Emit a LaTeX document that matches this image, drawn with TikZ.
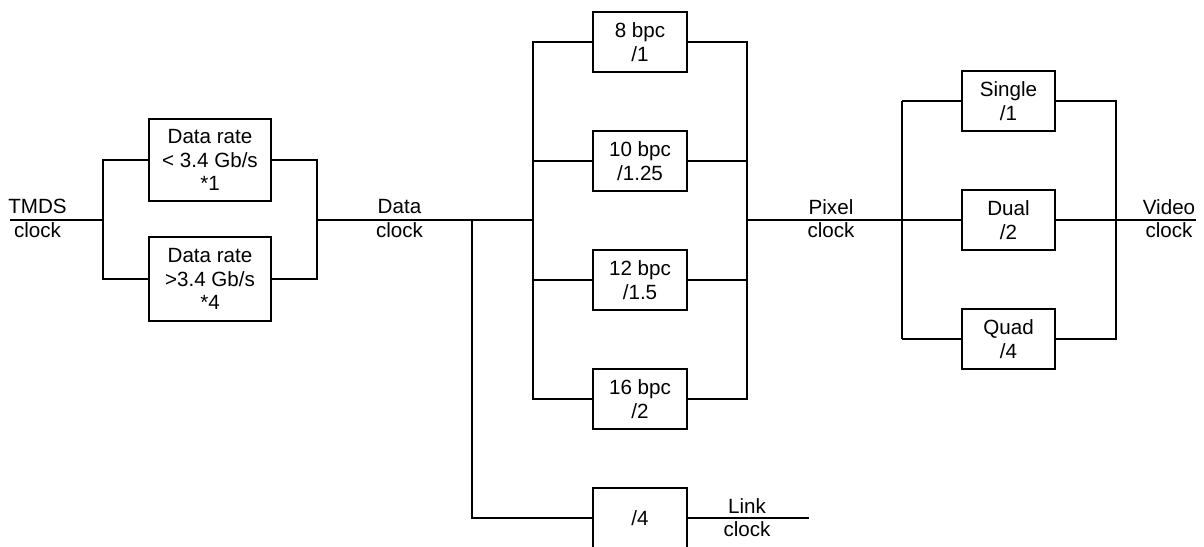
\documentclass[tikz,border=0pt]{standalone}
\usepackage{fontspec}
\setmainfont{Liberation Sans}
\usetikzlibrary{positioning}
\newcommand{\ckfont}{\fontsize{10.3pt}{11.75pt}\selectfont}
\tikzset{
  ckbox/.style  ={rectangle, draw=black, line width=1pt, fill=white,
                  inner sep=0pt, align=center, font=\ckfont, text=black},
  ckrate/.style ={ckbox, minimum width=61pt, minimum height=41pt},
  ckdiv/.style  ={ckbox, minimum width=47pt, minimum height=30pt},
  ckwire/.style ={draw=black, line width=0.55pt},
  ckbus/.style  ={draw=black, line width=1pt},
  cklbl/.style  ={font=\ckfont, text=black, align=center, inner sep=0pt},
}

\begin{document}
\begin{tikzpicture}[x=0.5pt, y=-0.5pt]
  \useasboundingbox (0,0) rectangle (1204,546);
  \clip (0,0) rectangle (1204,546);
  % points on the clock line
  \coordinate (tmds)  at (10,220);
  \coordinate (ja)    at (103,220);
  \coordinate (jb)    at (317,220);
  \coordinate (jc)    at (472,220);
  \coordinate (jd)    at (533,220);
  \coordinate (je)    at (747,220);
  \coordinate (jf)    at (902,220);
  \coordinate (jg)    at (1116,220);
  \coordinate (video) at (1196,220);
  \coordinate (link)  at (809,518);

  % rate stage
  \node[ckrate] (rlo) at (210,160) {Data rate\\< 3.4 Gb/s\\*1};
  \node[ckrate, minimum height=42pt] (rhi) at (210,279) {Data rate\\>3.4 Gb/s\\*4};
  \draw[ckwire] (tmds) -- (ja);
  \draw[ckwire] (rlo.west) -| (ja) |- (rhi.west);
  \draw[ckwire] (rlo.east) -| (jb) |- (rhi.east);
  \draw[ckwire] (jb) -- (jd);

  % colour depth stage
  \foreach \n/\t/\y in {8/1/42, 10/1.25/161, 12/1.5/280, 16/2/399}{
    \node[ckdiv] (b\n) at (640,\y) {\n{} bpc\\/\t};
  }
  \draw[ckwire] (b8.west) -| (jd) |- (b16.west);
  \draw[ckwire] (b8.east) -| (je) |- (b16.east);
  \foreach \n in {10,12}{
    \draw[ckwire] (b\n.west) -- (b\n.west -| jd);
    \draw[ckwire] (b\n.east) -- (b\n.east -| je);
  }
  \node[ckdiv] (div) at (640,518) {/4};
  \draw[ckwire] (jc) |- (div.west);
  \draw[ckwire] (div.east) -- (link);

  % pixel stage
  \foreach \m/\t/\d/\y in {single/Single/1/101, dual/Dual/2/220, quad/Quad/4/339}{
    \node[ckbox, minimum width=46.5pt, minimum height=30pt] (\m) at (1008.5,\y) {\t\\/\d};
  }
  \draw[ckwire] (je) -- (dual.west);
  \draw[ckwire] (single.west) -- (single.west -| jf);
  \draw[ckwire] (quad.west) -- (quad.west -| jf);
  \draw[ckbus] (single.west -| jf) -- (quad.west -| jf);
  \draw[ckwire] (single.east) -| (jg) |- (quad.east);
  \draw[ckwire] (dual.east) -- (video);

  % clock names
  \node[cklbl] (tmdslbl)  at (37.5,218.5) {TMDS\\clock};
  \node[cklbl] (datalbl)  at (399.5,218.5) {Data\\clock};
  \node[cklbl] (pixlbl)   at (831,218.5) {Pixel\\clock};
  \node[cklbl] (vidlbl)   at (1169,218.5) {Video\\clock};
  \node[cklbl] (linklbl)  at (747,517.5) {Link\\clock};
\end{tikzpicture}
\end{document}
